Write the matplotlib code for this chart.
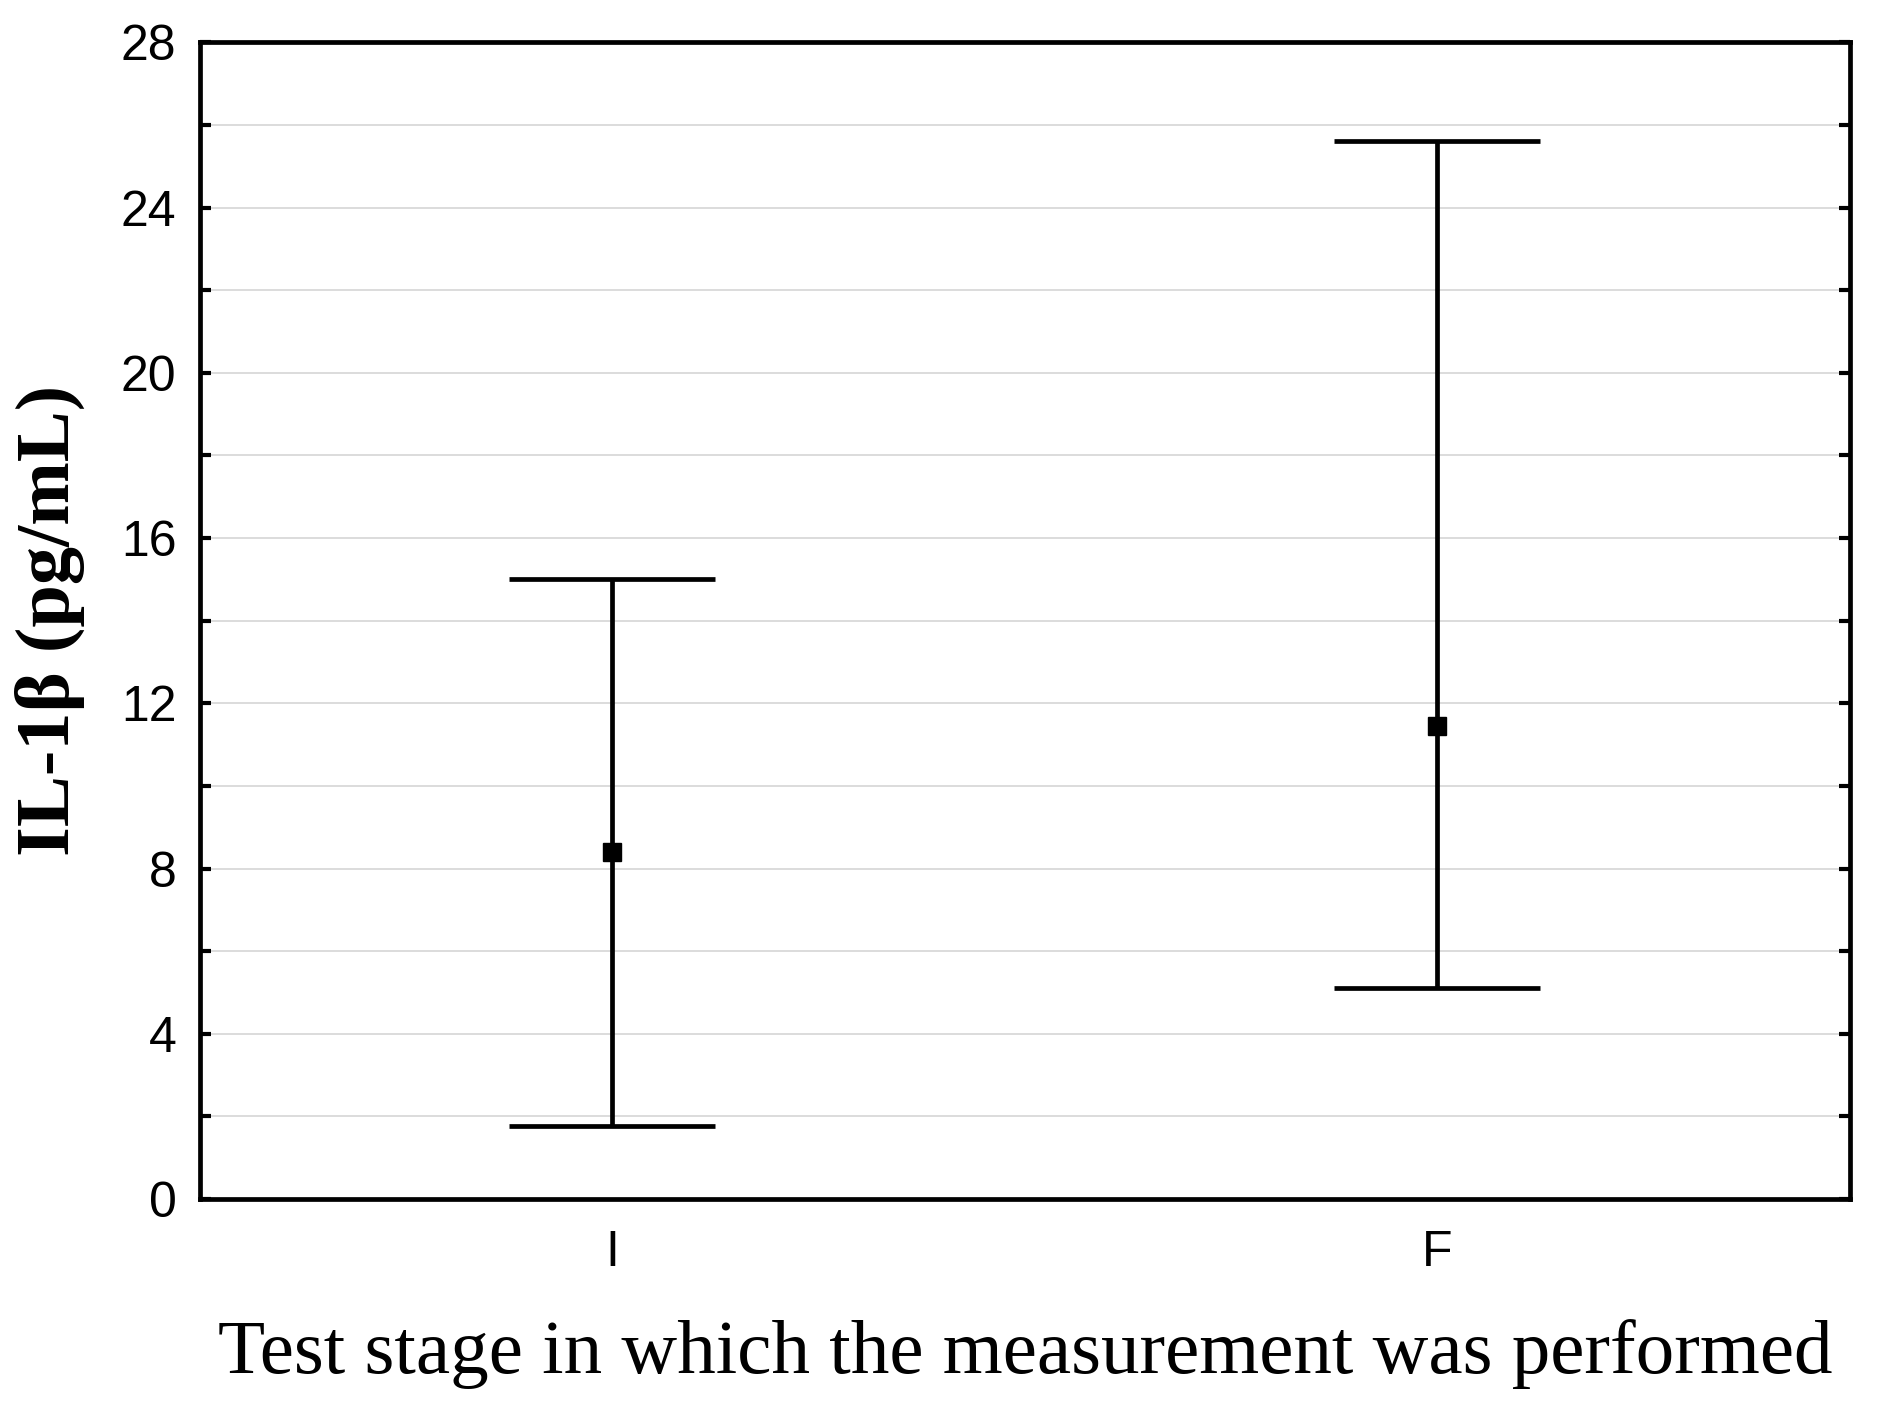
import matplotlib
matplotlib.use("Agg")
import matplotlib.pyplot as plt
from matplotlib.ticker import MultipleLocator

# values
stages = ["I", "F"]
means = [8.4, 11.45]
lower = [1.76, 5.12]
upper = [15.0, 25.62]

yticks = [0, 4, 8, 12, 16, 20, 24, 28]

fig = plt.figure(figsize=(18.78, 14.09), dpi=100)
ax = fig.add_axes([0.1065, 0.149, 0.8785, 0.821])

x = list(range(len(stages)))
err_lo = [m - l for m, l in zip(means, lower)]
err_hi = [u - m for m, u in zip(means, upper)]

ax.errorbar(x, means, yerr=[err_lo, err_hi], fmt="s", color="black",
            ms=13, elinewidth=3.4, capsize=74, capthick=3.4, zorder=3)

ax.set_xlim(-0.5, 1.5)
ax.set_ylim(0, 28)
ax.set_xticks(x)
ax.set_xticklabels(stages)
ax.set_yticks(yticks)
ax.yaxis.set_minor_locator(MultipleLocator(2))

ax.grid(True, axis="y", which="both", color="#d9d9d9", lw=1.3, zorder=0)
ax.set_axisbelow(True)

for s in ax.spines.values():
    s.set_linewidth(3.4)
    s.set_color("black")

ax.tick_params(axis="y", which="both", direction="in", length=8, width=3,
               left=True, right=True, labelsize=36, pad=17)
ax.tick_params(axis="x", length=0, labelsize=36, pad=22)
for lab in ax.get_xticklabels() + ax.get_yticklabels():
    lab.set_family("Liberation Sans")

ax.set_ylabel("IL-1β (pg/mL)", family="Liberation Serif", fontweight="bold",
              fontsize=55)
ax.set_xlabel("Test stage in which the measurement was performed",
              family="Liberation Serif", fontsize=55.5, labelpad=31)
ax.yaxis.set_label_coords(-0.07, 0.5)

fig.savefig("out.png", dpi=100)
